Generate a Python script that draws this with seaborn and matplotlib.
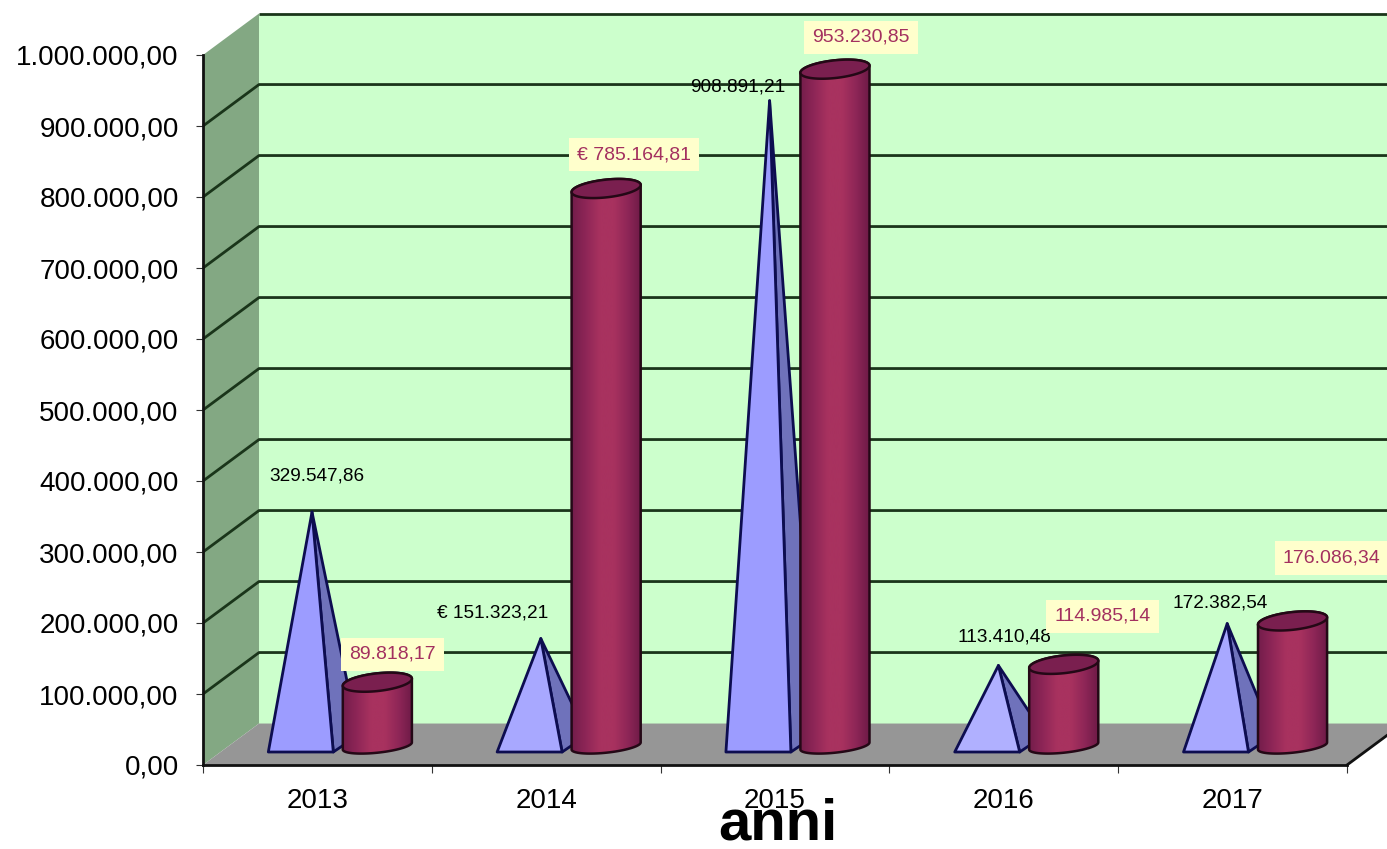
import numpy as np
import pandas as pd
import matplotlib
matplotlib.use("Agg")
import matplotlib.pyplot as plt
from matplotlib.patches import Polygon
from matplotlib.colors import LinearSegmentedColormap
import seaborn as sns

# ---- data ----
years = ["2013", "2014", "2015", "2016", "2017"]
pyramid_values = [329547.86, 151323.21, 908891.21, 113410.48, 172382.54]
cylinder_values = [89818.17, 785164.81, 953230.85, 114985.14, 176086.34]
pyramid_labels = ["329.547,86", "€ 151.323,21", "908.891,21", "113.410,48", "172.382,54"]
cylinder_labels = ["89.818,17", "€ 785.164,81", "953.230,85", "114.985,14", "176.086,34"]
y_ticks = [0, 100000, 200000, 300000, 400000, 500000, 600000, 700000, 800000, 900000, 1000000]
y_tick_labels = ["0,00", "100.000,00", "200.000,00", "300.000,00", "400.000,00", "500.000,00",
                 "600.000,00", "700.000,00", "800.000,00", "900.000,00", "1.000.000,00"]

# ---- layout / style ----
W, H = 1387, 849
DEPTH_X, DEPTH_Y = 0.2448, 58400      # perspective shift of back wall
BASE = 26800                          # level of the marks' centre on the floor
PYR_C, PYR_HW = -0.0725, 0.142
PYR_APEX = -0.0236
PYR_BACK = 0.109
PYR_FRONT_Y, PYR_BACK_Y = 18300, 42000
CYL_C, CYL_HW = 0.262, 0.151
CYL_BH, CYL_TH, CYL_TILT = 9500, 12500, 5000
PYR_OFF = [(5, 36), (-48, 26), (-32, 14), (6, 28), (-7, 21)]
CYL_OFF = [(15, 28), (28, 34), (26, 32), (39, 48), (39, 63)]
WALL, SIDE, FLOOR = "#ccffcc", "#83a883", "#969696"
GRID = "#1a351a"
PYR_FS = ["#9c9cff", "#a8a8ff", "#9c9cff", "#b0b0ff", "#a8a8ff"]
PYR_S, PYR_E = "#6f72bb", "#0d0d50"
CYL_E, CYL_TOP = "#240816", "#7a1f4f"
RED = "#a3305f"

sns.set_theme(style="white")
plt.rcParams["font.family"] = ["Liberation Sans", "DejaVu Sans"]

fig = plt.figure(figsize=(W / 100, H / 100), dpi=100, facecolor="white")
ax = fig.add_axes([203 / W, 1 - 765 / H, (1347 - 203) / W, (765 - 55) / H])

pos = np.arange(len(years))
df = pd.DataFrame({"pos": pos + CYL_C, "value": cylinder_values})
sns.barplot(data=df, x="pos", y="value", native_scale=True, width=2 * CYL_HW,
            color=CYL_TOP, saturation=1, ax=ax, zorder=5)
bars = list(ax.patches)

x0, x1 = -0.5, 4.5
ymax = y_ticks[-1]
# walls and floor
ax.add_patch(Polygon([(x0 + DEPTH_X, DEPTH_Y), (x1 + DEPTH_X, DEPTH_Y), (x1 + DEPTH_X, ymax + DEPTH_Y),
                      (x0 + DEPTH_X, ymax + DEPTH_Y)], fc=WALL, ec="none", zorder=0, clip_on=False))
ax.add_patch(Polygon([(x0, 0), (x0 + DEPTH_X, DEPTH_Y), (x0 + DEPTH_X, ymax + DEPTH_Y), (x0, ymax)],
                     fc=SIDE, ec="none", zorder=0, clip_on=False))
ax.add_patch(Polygon([(x0, 0), (x1, 0), (x1 + DEPTH_X, DEPTH_Y), (x0 + DEPTH_X, DEPTH_Y)],
                     fc=FLOOR, ec="none", zorder=0.5, clip_on=False))
for v in y_ticks[1:]:
    xs = [x0 + DEPTH_X, x1 + DEPTH_X]
    ys = [v + DEPTH_Y, v + DEPTH_Y]
    if v < ymax:
        xs = [x0] + xs
        ys = [v] + ys
    ax.plot(xs, ys, color=GRID, lw=2, zorder=1, clip_on=False, solid_capstyle="butt")
ax.plot([x1, x1 + DEPTH_X], [0, DEPTH_Y], color="#111111", lw=2, zorder=1.5, clip_on=False)

cmap = LinearSegmentedColormap.from_list(
    "cyl", ["#731d4b", "#8e2657", "#a8325f", "#a8325f", "#8e2657", "#6c1a46"])
grad = np.linspace(0, 1, 256).reshape(1, -1)


def ellipse(cx, cy, h, t):
    return np.column_stack([cx + CYL_HW * np.cos(t), cy + h * np.sin(t) + CYL_TILT * np.cos(t)])


for i, (pv, cv) in enumerate(zip(pyramid_values, cylinder_values)):
    # pyramid
    c = i + PYR_C
    apex = (i + PYR_APEX, BASE + pv)
    fl, fr = (c - PYR_HW, PYR_FRONT_Y), (c + PYR_HW, PYR_FRONT_Y)
    br = (c + PYR_HW + PYR_BACK, PYR_BACK_Y)
    ax.add_patch(Polygon([fr, br, apex], fc=PYR_S, ec=PYR_E, lw=2, zorder=3, clip_on=False, joinstyle="round"))
    ax.add_patch(Polygon([fl, fr, apex], fc=PYR_FS[i], ec=PYR_E, lw=2, zorder=3.1, clip_on=False, joinstyle="round"))

    # cylinder: body built on the seaborn bar
    cx = i + CYL_C
    top = BASE + cv
    low = ellipse(cx, BASE, CYL_BH, np.linspace(np.pi, 2 * np.pi, 60))
    upp = ellipse(cx, top, CYL_TH, np.linspace(0, np.pi, 60))
    body = Polygon(np.vstack([low, upp]), closed=True, fc="none", ec=CYL_E, lw=1.8,
                   zorder=5.2, transform=ax.transData, clip_on=False)
    ax.add_patch(body)
    bar = bars[i]
    bar.set_y(BASE)
    bar.set_clip_path(body)
    im = ax.imshow(grad, cmap=cmap, aspect="auto", zorder=5.1, interpolation="bilinear",
                   extent=(cx - CYL_HW, cx + CYL_HW, BASE - 2 * CYL_BH, top + 2 * CYL_TH))
    im.set_clip_path(body)
    cap = ellipse(cx, top, CYL_TH, np.linspace(0, 2 * np.pi, 100))
    ax.add_patch(Polygon(cap, fc=CYL_TOP, ec=CYL_E, lw=1.8, zorder=5.3, clip_on=False))

    # labels
    ax.annotate(pyramid_labels[i], xy=apex, xytext=PYR_OFF[i], textcoords="offset pixels",
                ha="center", va="center", fontsize=13.7, color="black", zorder=8, annotation_clip=False)
    ax.annotate(cylinder_labels[i], xy=(cx, top), xytext=CYL_OFF[i], textcoords="offset pixels",
                ha="center", va="center", fontsize=14, color=RED, zorder=9, annotation_clip=False,
                bbox=dict(boxstyle="square,pad=0.42", fc="#ffffcc", ec="none"))

ax.set_xlim(x0, x1)
ax.set_ylim(0, ymax)
ax.set_facecolor("none")
ax.set_yticks(y_ticks, y_tick_labels, fontsize=20, color="black")
ax.set_xticks(pos, years, fontsize=20, color="black")
ax.set_xticks(np.arange(x0, x1 + 0.5), minor=True)
ax.tick_params(axis="x", which="major", length=0, pad=16.5)
ax.tick_params(axis="x", which="minor", length=6, width=0.8, color="#333333", bottom=True)
ax.tick_params(axis="y", which="major", length=5, width=0.8, color="#333333", left=True, pad=12.5)
ax.set_xlabel("anni", fontsize=41.8, fontweight="bold", color="black", labelpad=-12, x=0.5026)
ax.set_ylabel("")
for s in ("top", "right"):
    ax.spines[s].set_visible(False)
for s in ("left", "bottom"):
    ax.spines[s].set_visible(True)
    ax.spines[s].set_color("#111111")
    ax.spines[s].set_linewidth(2)
    ax.spines[s].set_zorder(2)

fig.savefig("out.png", dpi=100, facecolor="white")
